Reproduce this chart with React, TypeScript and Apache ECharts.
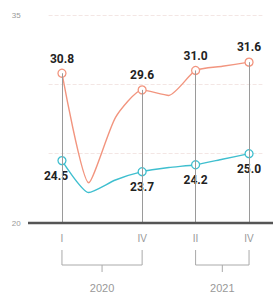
import React, { useEffect, useRef } from "react";
import * as echarts from "echarts";

const quarters = ["2020Q1", "2020Q2", "2020Q3", "2020Q4", "2021Q1", "2021Q2", "2021Q3", "2021Q4"];
const quarterLabels = ["I", "", "", "IV", "", "II", "", "IV"];
const orangeValues = [30.8, 22.9, 27.6, 29.6, 29.2, 31.0, 31.3, 31.6];
const tealValues = [24.5, 22.2, 23.1, 23.7, 24.0, 24.2, 24.6, 25.0];
const markedIdx = [0, 3, 5, 7];
const years = ["2020", "2021"];
const yearSpans = [[0, 3], [5, 7]];
const yTicks = [20, 25, 30, 35];
const yShown = [20, 35];

const ORANGE = "#f2957f";
const TEAL = "#3fbfcf";
const LABEL_FONT = "Roboto, 'Liberation Sans', sans-serif";

export default function App() {
  const ref = useRef<HTMLDivElement>(null);
  useEffect(() => {
    document.body.style.margin = "0";
    if (!ref.current) return;
    const chart = echarts.init(ref.current, null, { renderer: "svg" });

    const mk = (vals: number[], pos: string, offset: number[][]) =>
      vals.map((v, i) => {
        const k = markedIdx.indexOf(i);
        if (k < 0) return { value: v, symbol: "none" };
        return {
          value: v,
          symbol: "circle",
          symbolSize: 8,
          label: {
            show: true,
            position: pos,
            distance: pos === "top" ? 4 : 5,
            offset: offset[k],
            formatter: v.toFixed(1),
            fontFamily: LABEL_FONT,
            fontWeight: "bold",
            fontSize: 12,
            color: "#222",
          },
        };
      });

    chart.setOption({
      animation: false,
      grid: { left: 48.6, right: 10.6, top: 15, bottom: 74 },
      xAxis: {
        type: "category",
        data: quarters,
        boundaryGap: true,
        axisLine: { show: false },
        axisTick: { show: false },
        axisLabel: {
          interval: 0,
          margin: 10,
          formatter: (_: string, i: number) => quarterLabels[i],
          color: "#999",
          fontSize: 10,
          fontFamily: "'Liberation Sans', sans-serif",
        },
        splitLine: { show: false },
      },
      yAxis: {
        type: "value",
        min: yTicks[0],
        max: yTicks[yTicks.length - 1],
        interval: 5,
        axisLine: { show: false },
        axisTick: { show: false },
        axisLabel: {
          margin: 28,
          formatter: (v: number) => (yShown.indexOf(v) >= 0 ? String(v) : ""),
          color: "#999",
          fontSize: 8,
        },
        splitLine: { lineStyle: { color: "#f3e6e4", type: "dashed", width: 1 } },
      },
      series: [
        {
          type: "line",
          data: mk(orangeValues, "top", [[0, 0], [0, 0], [0, 0], [0, 0]]),
          smooth: 0.2,
          lineStyle: { color: ORANGE, width: 1.4 },
          itemStyle: { color: "#fff", borderColor: ORANGE, borderWidth: 1.3 },
          markLine: {
            silent: true,
            symbol: "none",
            label: { show: false },
            lineStyle: { color: "#9a9a9a", width: 1, type: "solid" },
            data: markedIdx.map((i) => [
              { coord: [quarters[i], orangeValues[i]] },
              { coord: [quarters[i], yTicks[0]] },
            ]),
          },
          z: 3,
        },
        {
          type: "line",
          data: mk(tealValues, "bottom", [[-6, 0], [0, 0], [0, 0], [0, 0]]),
          smooth: 0.2,
          lineStyle: { color: TEAL, width: 1.4 },
          itemStyle: { color: "#fff", borderColor: TEAL, borderWidth: 1.3 },
          z: 4,
        },
      ],
    });

    const px = (i: number) => chart.convertToPixel({ xAxisIndex: 0 }, quarters[i]) as number;
    const baseY = chart.convertToPixel({ yAxisIndex: 0 }, yTicks[0]) as number;
    const graphics: any[] = [
      {
        type: "line",
        shape: { x1: 28, y1: baseY, x2: 273, y2: baseY },
        style: { stroke: "#555", lineWidth: 2.5 },
        z: 10,
      },
    ];
    const top = baseY + 27;
    const bot = baseY + 42;
    yearSpans.forEach((span, k) => {
      const a = px(span[0]);
      const b = px(span[1]);
      const c = (a + b) / 2;
      graphics.push({
        type: "polyline",
        shape: { points: [[a, top], [a, bot], [b, bot], [b, top]] },
        style: { stroke: "#aaa", lineWidth: 1, fill: null },
      });
      graphics.push({
        type: "line",
        shape: { x1: c, y1: bot, x2: c, y2: bot + 7 },
        style: { stroke: "#aaa", lineWidth: 1 },
      });
      graphics.push({
        type: "text",
        x: c,
        y: bot + 23,
        style: {
          text: years[k],
          fill: "#999",
          fontSize: 11,
          fontFamily: "'Liberation Sans', sans-serif",
          align: "center",
          verticalAlign: "middle",
        },
      });
    });
    chart.setOption({ graphic: graphics });

    return () => chart.dispose();
  }, []);
  return <div ref={ref} style={{ width: 273, height: 297 }} />;
}
